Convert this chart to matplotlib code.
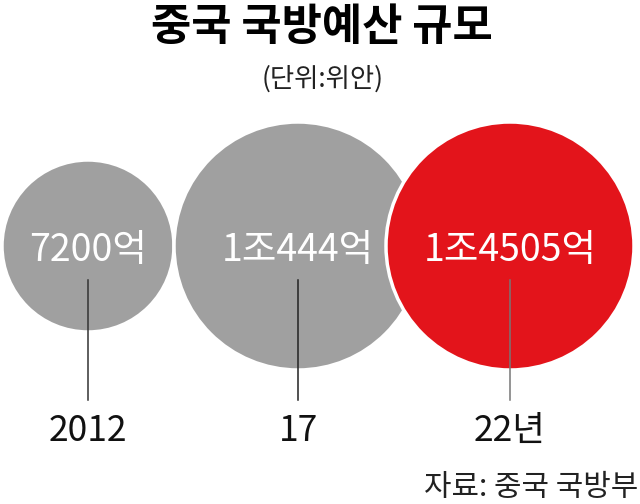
import matplotlib.pyplot as plt
from matplotlib.patches import Circle

# ===== DATA =====
years = ['2012', '17', '22년']
budget_labels = ['7200억', '1조444억', '1조4505억']
budget_values = [7200, 10444, 14505]  # 억 위안

# ===== LAYOUT (pixels) =====
centers_x = [88, 298, 510]
center_y = 246
radii = [86, 124, 124]
colors = ['#a0a0a0', '#a0a0a0', '#e3141b']
line_colors = ['#333333', '#222222', '#777777']

KR = ['Noto Sans CJK KR', 'DejaVu Sans']

fig = plt.figure(figsize=(6.4, 5.04), dpi=100)
ax = fig.add_axes([0, 0, 1, 1])
ax.set_xlim(0, 640)
ax.set_ylim(504, 0)
ax.set_aspect('equal')
ax.axis('off')

for i, (cx, r, c) in enumerate(zip(centers_x, radii, colors)):
    ax.add_patch(Circle((cx, center_y), r, facecolor=c, edgecolor='white',
                        linewidth=2.5, zorder=2 + i))
    ax.text(cx, 250, budget_labels[i], color='white', fontsize=27, fontweight='medium',
            family=KR, ha='center', va='center', zorder=10)
    ax.plot([cx, cx], [280, 400], color=line_colors[i], linewidth=1.1, zorder=10)
    ax.text(cx, 431, years[i], color='#111111', fontsize=25.5, family=KR,
            ha='center', va='center')

ax.text(322, 27, '중국 국방예산 규모', fontsize=31.5, fontweight='black', family=KR,
        ha='center', va='center', color='black')
ax.text(323, 79, '(단위:위안)', fontsize=19, family=KR,
        ha='center', va='center', color='#222222')
ax.text(638, 487, '자료: 중국 국방부', fontsize=21.5, family=KR,
        ha='right', va='center', color='#222222')

fig.savefig('out.png', dpi=100)
